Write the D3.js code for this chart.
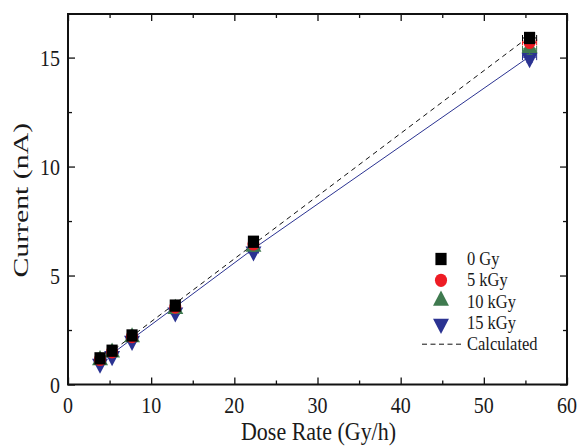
<!DOCTYPE html>
<html>
<head>
<meta charset="utf-8">
<script src="https://cdn.jsdelivr.net/npm/d3@7"></script>
<style>
  html, body { margin: 0; padding: 0; background: #fff; }
  svg text { font-family: "Liberation Serif", "Times New Roman", serif; fill: #1a1a1a; }
</style>
</head>
<body>
<svg id="chart" width="580" height="447"></svg>
<script>
// Dose rate (Gy/h) at each measurement
const doseRate = [3.85, 5.3, 7.7, 12.9, 22.3, 55.5];
const doseRateErr = [0.35, 0.4, 0.45, 0.5, 0.6, 0.85];

// Measured current (nA) for each accumulated dose
const current0Gy  = [1.20, 1.55, 2.25, 3.62, 6.55, 15.90];
const current5kGy = [1.15, 1.50, 2.20, 3.55, 6.45, 15.70];
const current10kGy = [1.07, 1.42, 2.12, 3.42, 6.28, 15.40];
const current15kGy = [1.00, 1.35, 2.05, 3.35, 6.15, 15.02];
const currentErr = [0.12, 0.12, 0.14, 0.15, 0.18, 0.25];

// Calculated current (nA) and the linear fit of the 15 kGy data
const calculated = [1.11, 1.53, 2.22, 3.72, 6.43, 15.98];
const fit15kGy = [1.00, 1.41, 2.09, 3.56, 6.23, 15.05];

const seriesNames = ["0 Gy", "5 kGy", "10 kGy", "15 kGy"];
const calcName = "Calculated";

const xTicks = [0, 10, 20, 30, 40, 50, 60];
const yTicks = [0, 5, 10, 15];

const svg = d3.select("#chart");
const m = { left: 68, right: 567, top: 14, bottom: 384.5 };
const TALL = 1.2; // vertical stretch applied to the serif lettering

const x = d3.scaleLinear().domain([0, 60]).range([m.left, m.right]);
const y = d3.scaleLinear().domain([0, 17]).range([m.bottom, m.top]);

const styles = [
  { color: "#000000", shape: d3.symbolSquare, size: 125, rot: 0 },
  { color: "#ee1c24", shape: d3.symbolCircle, size: 115, rot: 0 },
  { color: "#3f7a4f", shape: d3.symbolTriangle, size: 110, rot: 0 },
  { color: "#2b3392", shape: d3.symbolTriangle, size: 110, rot: 180 }
];
const seriesValues = [current0Gy, current5kGy, current10kGy, current15kGy];

// Calculated dashed line
const line = d3.line().x(d => x(d[0])).y(d => y(d[1]));
svg.append("path")
  .attr("d", line(doseRate.map((d, i) => [d, calculated[i]])))
  .attr("fill", "none").attr("stroke", "#111").attr("stroke-width", 1)
  .attr("stroke-dasharray", "5,4");

// Fit line through 15 kGy
svg.append("path")
  .attr("d", line(doseRate.map((d, i) => [d, fit15kGy[i]])))
  .attr("fill", "none").attr("stroke", "#2b3392").attr("stroke-width", 1);

// Markers and error bars, drawn from the last series to the first
for (let s = seriesValues.length - 1; s >= 0; s--) {
  const st = styles[s];
  const vals = seriesValues[s];
  const g = svg.append("g");
  const sym = d3.symbol().type(st.shape).size(st.size);
  doseRate.forEach((d, i) => {
    const cx = x(d), cy = y(vals[i]);
    g.append("path")
      .attr("d", sym())
      .attr("transform", `translate(${cx},${cy + (st.rot ? 1 : (st.shape === d3.symbolTriangle ? -1 : 0))}) rotate(${st.rot}) scale(1,1.1)`)
      .attr("fill", st.color);
  });
  const eb = svg.append("g").attr("stroke", s === 0 ? "#000" : st.color).attr("stroke-width", 1);
  doseRate.forEach((d, i) => {
    const cx = x(d), cy = y(vals[i]);
    const x0 = x(d - doseRateErr[i]), x1 = x(d + doseRateErr[i]);
    const y0 = y(vals[i] - currentErr[i]), y1 = y(vals[i] + currentErr[i]);
    eb.append("line").attr("x1", x0).attr("x2", x1).attr("y1", cy).attr("y2", cy);
    eb.append("line").attr("x1", x0).attr("x2", x0).attr("y1", cy - 3).attr("y2", cy + 3);
    eb.append("line").attr("x1", x1).attr("x2", x1).attr("y1", cy - 3).attr("y2", cy + 3);
    eb.append("line").attr("x1", cx).attr("x2", cx).attr("y1", y0).attr("y2", y1);
    eb.append("line").attr("x1", cx - 3).attr("x2", cx + 3).attr("y1", y0).attr("y2", y0);
    eb.append("line").attr("x1", cx - 3).attr("x2", cx + 3).attr("y1", y1).attr("y2", y1);
  });
}

// Axes: major and minor ticks point inward on all four sides
const xMinor = d3.range(5, 60, 10);
const yMinor = [2.5, 7.5, 12.5];

svg.append("g").attr("transform", `translate(0,${m.bottom})`)
  .call(d3.axisBottom(x).tickValues(xTicks).tickSize(-7).tickFormat(""));
svg.append("g").attr("transform", `translate(0,${m.bottom})`)
  .call(d3.axisBottom(x).tickValues(xMinor).tickSize(-4).tickFormat(""));
svg.append("g").attr("transform", `translate(0,${m.top})`)
  .call(d3.axisTop(x).tickValues(xTicks).tickSize(-7).tickFormat(""));
svg.append("g").attr("transform", `translate(0,${m.top})`)
  .call(d3.axisTop(x).tickValues(xMinor).tickSize(-4).tickFormat(""));

svg.append("g").attr("transform", `translate(${m.left},0)`)
  .call(d3.axisLeft(y).tickValues(yTicks).tickSize(-7).tickFormat(""));
svg.append("g").attr("transform", `translate(${m.left},0)`)
  .call(d3.axisLeft(y).tickValues(yMinor).tickSize(-4).tickFormat(""));
svg.append("g").attr("transform", `translate(${m.right},0)`)
  .call(d3.axisRight(y).tickValues(yTicks).tickSize(-7).tickFormat(""));
svg.append("g").attr("transform", `translate(${m.right},0)`)
  .call(d3.axisRight(y).tickValues(yMinor).tickSize(-4).tickFormat(""));

svg.selectAll(".domain").remove();
svg.selectAll(".tick line").attr("stroke", "#111").attr("stroke-width", 1.3);

// Tick labels
svg.append("g").selectAll("text").data(xTicks).join("text")
  .attr("transform", d => `translate(${x(d)},${m.bottom + 28}) scale(1,${TALL})`)
  .attr("text-anchor", "middle").attr("font-size", 20)
  .text(d => d3.format("d")(d));
svg.append("g").selectAll("text").data(yTicks).join("text")
  .attr("transform", d => `translate(${m.left - 8},${y(d) + 8}) scale(1,${TALL})`)
  .attr("text-anchor", "end").attr("font-size", 20)
  .text(d => d3.format("d")(d));

svg.append("rect")
  .attr("x", m.left).attr("y", m.top)
  .attr("width", m.right - m.left).attr("height", m.bottom - m.top)
  .attr("fill", "none").attr("stroke", "#111").attr("stroke-width", 2);

// Axis titles
svg.append("text")
  .attr("transform", `translate(${(m.left + m.right) / 2 + 1},440) scale(1,1.12)`)
  .attr("text-anchor", "middle").attr("font-size", 22)
  .text("Dose Rate (Gy/h)");
svg.append("text")
  .attr("transform", `translate(28,${(m.top + m.bottom) / 2 + 1}) scale(1,1.42) rotate(-90)`)
  .attr("text-anchor", "middle").attr("font-size", 21)
  .text("Current (nA)");

// Legend
const legend = svg.append("g").attr("transform", "translate(441,259)");
seriesNames.forEach((name, i) => {
  const st = styles[i];
  const row = legend.append("g").attr("transform", `translate(0,${i * 21.3})`);
  row.append("path")
    .attr("d", d3.symbol().type(st.shape).size(st.size)())
    .attr("transform", `translate(0,${st.rot ? 1 : (st.shape === d3.symbolTriangle ? -1 : 0)}) rotate(${st.rot}) scale(1,1.1)`)
    .attr("fill", st.color);
  row.append("text").attr("transform", `translate(26,6) scale(1,1.2)`)
    .attr("font-size", 16.5).text(name);
});
const calcRow = legend.append("g").attr("transform", `translate(0,${4 * 21.3})`);
calcRow.append("line").attr("x1", -19).attr("x2", 21).attr("y1", 0).attr("y2", 0)
  .attr("stroke", "#111").attr("stroke-width", 1).attr("stroke-dasharray", "5,3.5");
calcRow.append("text").attr("transform", `translate(26,6) scale(1,1.2)`)
  .attr("font-size", 16.5).text(calcName);
</script>
</body>
</html>
